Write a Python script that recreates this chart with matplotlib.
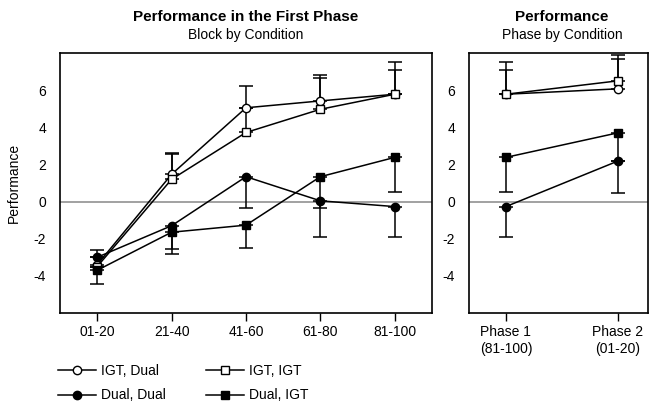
import matplotlib
matplotlib.use("Agg")
import matplotlib.pyplot as plt
import numpy as np

plt.rcParams['font.family'] = ['Liberation Sans', 'DejaVu Sans']
plt.rcParams['axes.unicode_minus'] = False

blocks = ['01-20', '21-40', '41-60', '61-80', '81-100']
phases = ['Phase 1\n(81-100)', 'Phase 2\n(01-20)']

# first phase, block by condition
igt_dual = [-3.4, 1.47, 5.05, 5.42, 5.78]
igt_igt = [-3.5, 1.2, 3.72, 4.97, 5.78]
dual_dual = [-3.0, -1.3, 1.34, 0.04, -0.27]
dual_igt = [-3.7, -1.65, -1.27, 1.34, 2.38]

# error bars (only one side drawn)
igt_dual_hi = [0.8, 1.17, 1.2, 1.38, 1.76]
igt_igt_hi = [0.0, 1.35, 1.3, 1.71, 1.33]
dual_dual_lo = [0.0, 1.25, 1.7, 1.94, 1.63]
dual_igt_lo = [0.73, 1.15, 1.25, 1.7, 1.88]

# phase by condition
ph_igt_dual = [5.78, 6.07]
ph_igt_igt = [5.78, 6.5]
ph_dual_dual = [-0.27, 2.18]
ph_dual_igt = [2.38, 3.7]

ph_igt_dual_hi = [1.76, 1.6]
ph_igt_igt_hi = [1.33, 1.4]
ph_dual_dual_lo = [1.63, 1.7]
ph_dual_igt_lo = [1.88, 1.5]

labels = ['IGT, Dual', 'IGT, IGT', 'Dual, Dual', 'Dual, IGT']
styles = [('o', 'white'), ('s', 'white'), ('o', 'black'), ('s', 'black')]

fig = plt.figure(figsize=(6.49, 4.04), dpi=100)
ax1 = fig.add_axes([60 / 649, 1 - 313 / 404, 372 / 649, 260 / 404])
ax2 = fig.add_axes([469 / 649, 1 - 313 / 404, 179 / 649, 260 / 404])


def draw(ax, x, series):
    handles = []
    for (y, lo, hi), (m, fc), lab in zip(series, styles, labels):
        y = np.array(y)
        ax.errorbar(x, y, yerr=[lo, hi], fmt='none', ecolor='black',
                    elinewidth=1.1, capsize=5, capthick=1.1, zorder=2)
        h, = ax.plot(x, y, color='black', lw=1.1, marker=m, markersize=6,
                     markerfacecolor=fc, markeredgecolor='black',
                     markeredgewidth=1, label=lab, zorder=3)
        handles.append(h)
    ax.axhline(0, color='#888888', lw=1.1, zorder=1)
    ax.set_ylim(-6, 8)
    ax.set_yticks([-4, -2, 0, 2, 4, 6])
    ax.tick_params(axis='y', length=0, pad=10, labelsize=10)
    ax.tick_params(axis='x', length=6, width=1, pad=3, labelsize=10)
    for s in ax.spines.values():
        s.set_linewidth(1.2)
    return handles


zero = [0] * 5
x1 = np.arange(len(blocks))
handles = draw(ax1, x1, [
    (igt_dual, zero, igt_dual_hi),
    (igt_igt, zero, igt_igt_hi),
    (dual_dual, dual_dual_lo, zero),
    (dual_igt, dual_igt_lo, zero),
])
ax1.set_xlim(-0.5, 4.5)
ax1.set_xticks(x1)
ax1.set_xticklabels(blocks)
ax1.set_ylabel('Performance', fontsize=10, labelpad=9)

zero2 = [0] * 2
x2 = np.arange(len(phases))
draw(ax2, x2, [
    (ph_igt_dual, zero2, ph_igt_dual_hi),
    (ph_igt_igt, zero2, ph_igt_igt_hi),
    (ph_dual_dual, ph_dual_dual_lo, zero2),
    (ph_dual_igt, ph_dual_igt_lo, zero2),
])
ax2.set_xlim(-0.33, 1.27)
ax2.set_xticks(x2)
ax2.set_xticklabels(phases)

fig.text(246 / 649, 1 - 17 / 404, 'Performance in the First Phase',
         ha='center', va='center', fontsize=11, fontweight='bold')
fig.text(246 / 649, 1 - 35 / 404, 'Block by Condition',
         ha='center', va='center', fontsize=10)
fig.text(562 / 649, 1 - 17 / 404, 'Performance',
         ha='center', va='center', fontsize=11, fontweight='bold')
fig.text(562 / 649, 1 - 35 / 404, 'Phase by Condition',
         ha='center', va='center', fontsize=10)

order = [0, 2, 1, 3]
fig.legend([handles[i] for i in order], [labels[i] for i in order],
           loc='upper left', bbox_to_anchor=(58 / 649, 1 - 364 / 404),
           ncol=2, frameon=False, fontsize=10, numpoints=1,
           handlelength=2.7, handletextpad=0.4, columnspacing=2.9,
           labelspacing=0.75, borderaxespad=0, borderpad=0)

fig.savefig('out.png', dpi=100)
